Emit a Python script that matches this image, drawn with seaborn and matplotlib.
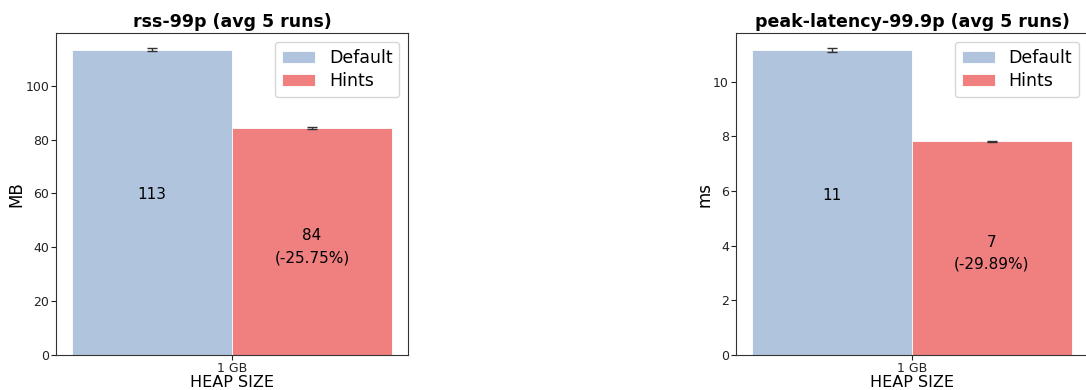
import matplotlib
matplotlib.use("Agg")
import matplotlib.pyplot as plt
import seaborn as sns
import pandas as pd

# Benchmark results: mean over 5 runs, with the spread shown as error bars
heap_sizes = ["1 GB"]
configs = ["Default", "Hints"]

rss_mean = [113.4, 84.2]
rss_err = [0.45, 0.35]

latency_mean = [11.15, 7.817]
latency_err = [0.07, 0.02]

palette = {"Default": "lightsteelblue", "Hints": "lightcoral"}

sns.set_style("white")
plt.rcParams["font.family"] = ["DejaVu Sans"]
plt.rcParams["text.color"] = "black"
plt.rcParams["axes.labelcolor"] = "black"
plt.rcParams["xtick.color"] = "#222222"
plt.rcParams["ytick.color"] = "#222222"

fig = plt.figure(figsize=(10.86, 3.9), dpi=100)
ax_rss = fig.add_axes([0.0516, 0.0897, 0.3241, 0.8256])
ax_lat = fig.add_axes([0.6777, 0.0897, 0.3241, 0.8256])


def draw_panel(ax, means, errs, title, ylabel):
    df = pd.DataFrame({
        "heap": heap_sizes * len(configs),
        "config": configs,
        "value": means,
    })
    sns.barplot(data=df, x="heap", y="value", hue="config", palette=palette,
                errorbar=None, width=0.8, saturation=1, ax=ax,
                edgecolor="white", linewidth=0.6)
    bars = [p for p in ax.patches if p.get_height() > 0]
    bars.sort(key=lambda p: p.get_x())
    base = means[0]
    for bar, m, e, name in zip(bars, means, errs, configs):
        cx = bar.get_x() + bar.get_width() / 2
        ax.errorbar(cx, m, yerr=e, fmt="none", ecolor="#333333",
                    elinewidth=1.0, capsize=3.5, capthick=1.0)
        if name == "Default":
            ax.text(cx, m / 2, f"{int(m)}", ha="center", va="bottom", fontsize=11)
        else:
            change = (m - base) / base * 100
            ax.text(cx, m / 2, f"{int(m)}\n({change:.2f}%)", ha="center",
                    va="center_baseline", fontsize=11, linespacing=1.6)
    ax.set_xlim(-0.44, 0.44)
    top = max(m + e for m, e in zip(means, errs))
    ax.set_ylim(0, top * 1.05)
    ax.set_title(title, fontsize=12.5, fontweight="bold", pad=4)
    ax.set_ylabel(ylabel, fontsize=12, labelpad=0)
    ax.set_xlabel("HEAP SIZE", fontsize=11.5, labelpad=0)
    ax.tick_params(axis="both", labelsize=9, length=3.5, width=0.8,
                   bottom=True, left=True, pad=1.5)
    for s in ax.spines.values():
        s.set_color("#333333")
        s.set_linewidth(0.8)
    ax.legend(loc="upper right", fontsize=12.5, frameon=True, handlelength=1.9,
              handletextpad=0.8, borderpad=0.4, labelspacing=0.32)


draw_panel(ax_rss, rss_mean, rss_err, "rss-99p (avg 5 runs)", "MB")
draw_panel(ax_lat, latency_mean, latency_err, "peak-latency-99.9p (avg 5 runs)", "ms")

fig.savefig("out.png", dpi=100)
